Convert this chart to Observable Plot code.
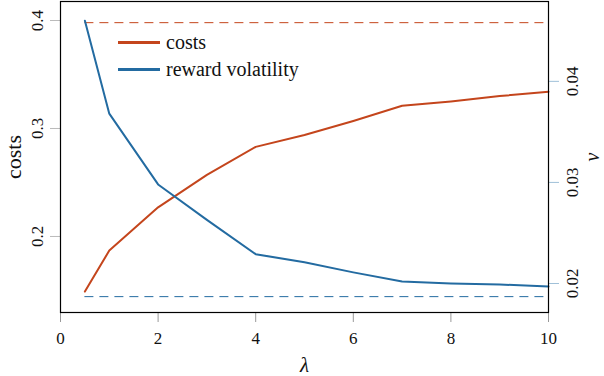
<!DOCTYPE html>
<html>
<head>
<meta charset="utf-8">
<script src="https://cdn.jsdelivr.net/npm/d3@7"></script>
<script src="https://cdn.jsdelivr.net/npm/@observablehq/plot@0.6"></script>
</head>
<body style="margin:0;background:#fff">
<div id="wrap" style="position:relative;width:604px;height:376px"></div>
<script>
// ---- data ----
const lambda = [0.5, 1, 2, 3, 4, 5, 6, 7, 8, 9, 10];
const costs = [0.149, 0.187, 0.227, 0.257, 0.283, 0.294, 0.307, 0.321, 0.325, 0.330, 0.334];
const volatility = [0.0460, 0.0368, 0.0298, 0.0263, 0.0229, 0.0221, 0.0211, 0.0202, 0.0200, 0.0199, 0.0197];
const costLimit = [0.398];
const volLimit = [0.0187];
const limitRange = [0.5, 10];
const xTicks = [0, 2, 4, 6, 8, 10];
const leftTicks = [0.2, 0.3, 0.4];
const rightTicks = [0.02, 0.03, 0.04];
const leftDomain = [0.1296, 0.4176];
const rightDomain = [0.01713, 0.0479];
const seriesNames = ["costs", "reward volatility"];
const colors = ["#c4451c", "#236ba1"];

// map right axis values onto left scale
const toLeft = d3.scaleLinear().domain(rightDomain).range(leftDomain);
const rows = lambda.map((l, i) => ({lambda: l, costs: costs[i], vol: volatility[i]}));

const font = "Liberation Serif";

const chart = Plot.plot({
  width: 604,
  height: 376,
  marginLeft: 60,
  marginRight: 56,
  marginTop: 1,
  marginBottom: 64,
  style: {background: "white", overflow: "visible"},
  x: {domain: [0, 10], label: null},
  y: {domain: leftDomain, label: null},
  marks: [
    Plot.axisX({ticks: xTicks, tickSize: 10, tickPadding: 9, stroke: "#999", fontSize: 17, fill: "#111", label: null, tickFormat: d => String(d)}),
    Plot.axisY({ticks: leftTicks, tickSize: 10, stroke: "#bbb", tickFormat: () => "", label: null}),
    Plot.axisY(rightTicks.map(toLeft), {anchor: "right", tickSize: 10, stroke: "#9fc0d8", tickFormat: () => "", label: null}),
    Plot.text(leftTicks, {y: d => d, frameAnchor: "left", dx: -23, rotate: -90, text: d => d.toFixed(1), textAnchor: "middle", lineAnchor: "middle", fontSize: 17, fill: "#111"}),
    Plot.text(rightTicks, {y: d => toLeft(d), frameAnchor: "right", dx: 24, rotate: -90, text: d => d.toFixed(2), textAnchor: "middle", lineAnchor: "middle", fontSize: 17, fill: "#111"}),
    Plot.ruleY(costLimit, {x1: limitRange[0], x2: limitRange[1], stroke: colors[0], strokeWidth: 1, strokeDasharray: "9,6"}),
    Plot.ruleY(volLimit, {y: d => toLeft(d), x1: limitRange[0], x2: limitRange[1], stroke: colors[1], strokeWidth: 1, strokeDasharray: "9,6"}),
    Plot.line(rows, {x: "lambda", y: "costs", stroke: colors[0], strokeWidth: 2}),
    Plot.line(rows, {x: "lambda", y: d => toLeft(d.vol), stroke: colors[1], strokeWidth: 2}),
    Plot.frame({stroke: "black", strokeWidth: 1.2}),
    Plot.text(["costs"], {frameAnchor: "left", dx: -47, rotate: -90, textAnchor: "middle", lineAnchor: "middle", fontSize: 22, fill: "#111"}),
    Plot.text(["ν"], {frameAnchor: "right", dx: 44, rotate: -90, textAnchor: "middle", lineAnchor: "middle", fontSize: 20, fontStyle: "italic", fill: "#111"}),
    Plot.text(["λ"], {frameAnchor: "bottom", dy: 53, textAnchor: "middle", lineAnchor: "middle", fontSize: 21, fontStyle: "italic", fill: "#111"})
  ]
});

// force serif font on every text element
chart.style.fontFamily = font;
d3.select(chart).selectAll("g, text").each(function() {
  this.style.fontFamily = font;
  this.setAttribute("font-family", font);
});

const wrap = document.getElementById("wrap");
wrap.appendChild(chart);

const legend = document.createElement("div");
legend.style.cssText = "position:absolute;left:118px;top:29px;font-size:20px;color:#111";
legend.style.fontFamily = font;
seriesNames.forEach((name, i) => {
  const row = document.createElement("div");
  row.style.cssText = "display:flex;align-items:center;height:27px";
  const sw = document.createElement("span");
  sw.style.cssText = "width:42px;height:2.5px;margin-right:6px";
  sw.style.background = colors[i];
  const t = document.createElement("span");
  t.textContent = name;
  t.style.fontFamily = font;
  row.appendChild(sw);
  row.appendChild(t);
  legend.appendChild(row);
});
wrap.appendChild(legend);
</script>
</body>
</html>
